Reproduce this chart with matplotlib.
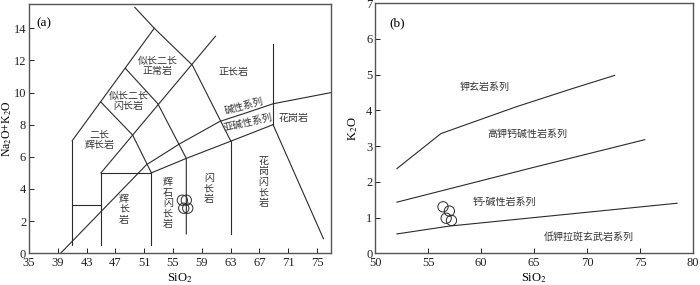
import matplotlib
import matplotlib.pyplot as plt

matplotlib.use("Agg")

plt.rcParams["font.family"] = ["Liberation Serif", "Noto Sans CJK SC"]
plt.rcParams["mathtext.fontset"] = "stix"

# (a) TAS plutonic diagram boundaries: lists of (SiO2, Na2O+K2O)
tas_lines = [
    [(41, 0.5), (41, 7)],
    [(41, 3), (45, 3)],
    [(45, 0.5), (45, 5)],
    [(45, 5), (52, 5)],
    [(52, 0.5), (52, 5)],
    [(41, 7), (52.4, 14)],
    [(49.7, 15.3), (52.4, 14), (57.7, 11.7), (63, 7)],
    [(63, 7), (63, 1.2)],
    [(45, 9.4), (49.4, 7.35), (52, 5)],
    [(48.4, 11.5), (52.9, 9.3), (56.85, 5.9), (56.85, 1.2)],
    [(45, 5), (60.9, 13.5)],
    [(39.4, 0), (51.3, 5.5), (55.9, 6.8), (61.5, 8.2), (65.6, 8.8),
     (68.9, 9.3), (77, 10)],
    [(52, 5), (56.85, 5.9), (62.9, 6.95), (68.9, 8)],
    [(68.9, 8), (75.9, 0.9)],
    [(68.9, 8), (68.9, 13.05)],
]
tas_labels = [
    (52.9, 11.65, "似长二长\n正常岩", 0),
    (63.4, 11.3, "正长岩", 0),
    (48.8, 9.45, "似长二长\n闪长岩", 0),
    (44.8, 7.05, "二长\n辉长岩", 0),
    (64.8, 9.2, "碱性系列", 15),
    (65.4, 8.15, "亚碱性系列", 13),
    (71.7, 8.4, "花岗岩", 0),
]
# labels written top to bottom
tas_vlabels = [
    (48.2, 2.75, "辉长岩"),
    (54.3, 3.1, "辉石闪长岩"),
    (60.0, 4.0, "闪长岩"),
    (67.6, 4.45, "花岗闪长岩"),
]
tas_x = [56.3, 56.85, 56.5, 57.05]
tas_y = [3.3, 3.3, 2.8, 2.8]

# (b) SiO2 - K2O series boundaries
k_lines = [
    [(52.05, 2.37), (56.2, 3.35), (63.3, 4.1), (68.5, 4.6), (72.6, 4.98)],
    [(52.05, 1.43), (64.9, 2.4), (75.45, 3.18)],
    [(52.05, 0.54), (57.0, 0.76), (78.5, 1.4)],
]
k_labels = [
    (60.3, 4.67, "钾玄岩系列"),
    (64.4, 3.33, "高钾钙碱性岩系列"),
    (62.2, 1.44, "钙-碱性岩系列"),
    (70.2, 0.46, "低钾拉斑玄武岩系列"),
]
k_x = [56.4, 57.0, 56.7, 57.2]
k_y = [1.3, 1.18, 0.98, 0.92]

LINE = "#2b2b2b"
SPINE = "#555555"
CJK = ["Noto Sans CJK SC", "DejaVu Sans"]
FS = 7.2

fig = plt.figure(figsize=(7, 2.85), dpi=100)
ax1 = fig.add_axes([0.0414, 0.1115, 0.432, 0.874])
ax2 = fig.add_axes([0.536, 0.1115, 0.454, 0.877])

for seg in tas_lines:
    xs, ys = zip(*seg)
    ax1.plot(xs, ys, color=LINE, lw=0.8)
for x, y, s, r in tas_labels:
    ax1.text(x, y, s, ha="center", va="center", rotation=r, fontsize=FS,
             linespacing=1.0, color="#333333", family=CJK,
             multialignment="center")
for x, y, s in tas_vlabels:
    n = len(s)
    step = FS * 1.05
    for i, ch in enumerate(s):
        off = ((n - 1) / 2 - i) * step
        ax1.annotate(ch, (x, y), xytext=(0, off), textcoords="offset points",
                     ha="center", va="center", fontsize=FS,
                     color="#333333", family=CJK)
ax1.scatter(tas_x, tas_y, s=55, facecolors="none", edgecolors=LINE, lw=0.7,
            zorder=3)
ax1.text(36.0, 14.3, "(a)", fontsize=9.5, va="center")
ax1.set_xlim(35, 77)
ax1.set_ylim(0, 15.5)
ax1.set_xticks(range(35, 77, 4))
ax1.set_yticks(range(0, 15, 2))
ax1.set_xlabel("SiO$_2$", fontsize=9, labelpad=1)
ax1.set_ylabel("Na$_2$O+K$_2$O", fontsize=8.5, labelpad=0)

for seg in k_lines:
    xs, ys = zip(*seg)
    ax2.plot(xs, ys, color=LINE, lw=0.8)
for x, y, s in k_labels:
    ax2.text(x, y, s, ha="center", va="center", fontsize=FS,
             color="#333333", family=CJK)
ax2.scatter(k_x, k_y, s=55, facecolors="none", edgecolors=LINE, lw=0.7,
            zorder=3)
ax2.text(51.3, 6.45, "(b)", fontsize=9.5, va="center")
ax2.set_xlim(50, 80)
ax2.set_ylim(0, 7)
ax2.set_xticks(range(50, 81, 5))
ax2.set_yticks(range(0, 8))
ax2.set_xlabel("SiO$_2$", fontsize=9, labelpad=1)
ax2.set_ylabel("K$_2$O", fontsize=9, labelpad=4)

for ax in (ax1, ax2):
    ax.tick_params(direction="in", length=3.5, width=0.7, labelsize=9,
                   colors="#222222", pad=2)
    ax.tick_params(axis="x", pad=3)
    ax.tick_params(top=False, right=False)
    for sp in ax.spines.values():
        sp.set_color(SPINE)
        sp.set_linewidth(1.0)

fig.savefig("out.png", dpi=100)
